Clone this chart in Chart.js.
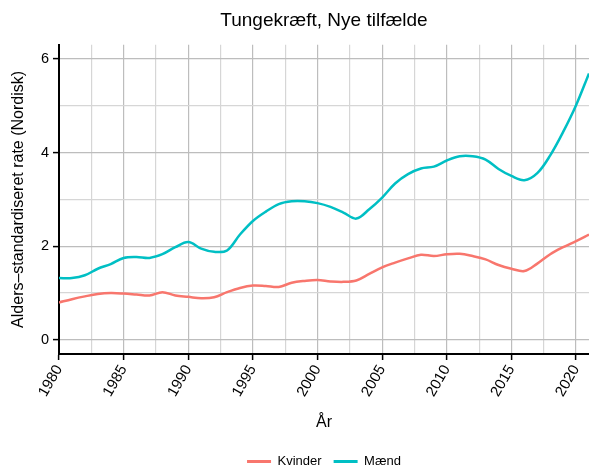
<!DOCTYPE html>
<html>
<head>
<meta charset="utf-8">
<script src="https://cdn.jsdelivr.net/npm/chart.js@4.4.0/dist/chart.umd.min.js"></script>
<style>
  html, body { margin: 0; padding: 0; background: #fff; }
  #wrap { width: 589px; height: 466px; }
</style>
</head>
<body>
<div id="wrap"><canvas id="chart"></canvas></div>
<script>
// Årstal og rater
const YEARS = [
  1980,1981,1982,1983,1984,1985,1986,1987,1988,1989,
  1990,1991,1992,1993,1994,1995,1996,1997,1998,1999,
  2000,2001,2002,2003,2004,2005,2006,2007,2008,2009,
  2010,2011,2012,2013,2014,2015,2016,2017,2018,2019,
  2020,2021,
];
const KVINDER = [
  0.80,0.87,0.93,0.98,1.00,0.99,0.97,0.95,1.02,0.95,
  0.92,0.89,0.91,1.02,1.11,1.16,1.15,1.13,1.22,1.26,
  1.28,1.25,1.24,1.27,1.41,1.55,1.65,1.74,1.82,1.79,
  1.83,1.84,1.79,1.72,1.60,1.52,1.47,1.63,1.83,1.98,
  2.11,2.25,
];
const MAEND = [
  1.32,1.32,1.38,1.52,1.62,1.75,1.77,1.75,1.83,1.98,
  2.09,1.95,1.88,1.91,2.25,2.54,2.74,2.90,2.96,2.96,
  2.92,2.84,2.72,2.59,2.79,3.04,3.34,3.54,3.66,3.70,
  3.83,3.92,3.92,3.85,3.65,3.50,3.41,3.56,3.94,4.44,
  5.01,5.69,
];
const X_TICKS = [1980,1982.5,1985,1987.5,1990,1992.5,1995,1997.5,2000,2002.5,2005,2007.5,2010,2012.5,2015,2017.5,2020];
const Y_TICKS = [0,1,2,3,4,5,6];

const COL_K = '#F8766D';
const COL_M = '#00BFC4';
const GRID_MAJOR = '#bdbdbd';
const GRID_MINOR = '#d6d6d6';

Chart.defaults.font.family = "'Liberation Sans', Arial, sans-serif";
Chart.defaults.color = '#000';

const toPoints = vals => YEARS.map((yr, i) => ({ x: yr, y: vals[i] }));

new Chart(document.getElementById('chart'), {
  type: 'line',
  data: {
    datasets: [
      { label: 'Kvinder', data: toPoints(KVINDER), borderColor: COL_K, backgroundColor: COL_K,
        borderWidth: 2.5, pointRadius: 0, tension: 0.35, fill: false },
      { label: 'Mænd', data: toPoints(MAEND), borderColor: COL_M, backgroundColor: COL_M,
        borderWidth: 2.5, pointRadius: 0, tension: 0.35, fill: false },
    ],
  },
  options: {
    responsive: true, maintainAspectRatio: false,
    animation: false,
    devicePixelRatio: 1,
    layout: { padding: { top: 0, left: 0, right: 0, bottom: -12 } },
    plugins: {
      title: {
        display: true, text: 'Tungekræft, Nye tilfælde', fullSize: false,
        font: { size: 19, weight: 'normal' }, color: '#000',
        padding: { top: 9, bottom: 13 },
      },
      legend: {
        position: 'bottom', fullSize: false,
        labels: {
          boxWidth: 24, boxHeight: 3, padding: 12,
          font: { size: 13 }, color: '#000',
          generateLabels: chart => Chart.defaults.plugins.legend.labels.generateLabels(chart)
            .map(item => Object.assign(item, { lineWidth: 0 })),
        },
      },
      tooltip: { enabled: false },
    },
    scales: {
      x: {
        type: 'linear', min: 1980, max: 2021,
        afterBuildTicks: axis => { axis.ticks = X_TICKS.map(v => ({ value: v })); },
        afterFit: axis => { axis.height = 89; axis.paddingLeft = 0; axis.paddingRight = 0; },
        grid: {
          color: ctx => (ctx.tick && ctx.tick.value % 5 === 0) ? GRID_MAJOR : GRID_MINOR,
          tickColor: ctx => (ctx.tick && ctx.tick.value % 5 === 0) ? '#000' : 'rgba(0,0,0,0)',
          lineWidth: 1.2, tickLength: 6, tickWidth: 1.5,
        },
        border: { color: '#000', width: 2 },
        ticks: {
          autoSkip: false, minRotation: 60, maxRotation: 60, padding: 2,
          font: { size: 15 }, color: '#000',
          callback: v => (v % 5 === 0 ? String(v) : ''),
        },
        title: { display: true, text: 'År', font: { size: 16 }, color: '#000', padding: { top: 0, bottom: 11 } },
      },
      y: {
        min: -0.3, max: 6.3,
        afterBuildTicks: axis => { axis.ticks = Y_TICKS.map(v => ({ value: v })); },
        afterFit: axis => { axis.width = 59; },
        grid: {
          color: ctx => (ctx.tick && ctx.tick.value % 2 === 0) ? GRID_MAJOR : GRID_MINOR,
          tickColor: ctx => (ctx.tick && ctx.tick.value % 2 === 0) ? '#000' : 'rgba(0,0,0,0)',
          lineWidth: 1.2, tickLength: 6, tickWidth: 1.5,
        },
        border: { color: '#000', width: 2 },
        ticks: {
          padding: 4, font: { size: 14.5 }, color: '#000',
          callback: v => (v % 2 === 0 ? String(v) : ''),
        },
        title: { display: true, text: 'Alders–standardiseret rate (Nordisk)', font: { size: 16 }, color: '#000', padding: { top: 9, bottom: 0 } },
      },
    },
  },
});
</script>
</body>
</html>
